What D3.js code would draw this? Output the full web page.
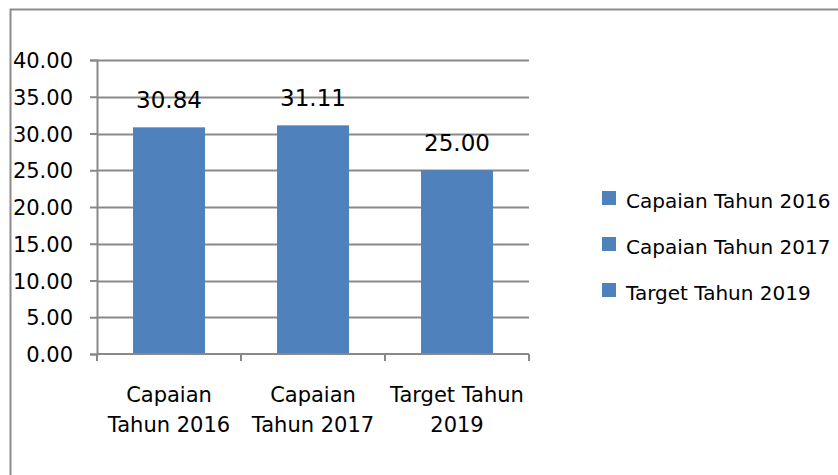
<!DOCTYPE html>
<html>
<head>
<meta charset="utf-8">
<script src="https://cdn.jsdelivr.net/npm/d3@7"></script>
<style>
  body { margin: 0; background: #fff; }
  text { font-family: "DejaVu Sans", sans-serif; fill: #000; }
</style>
</head>
<body>
<div id="chart"></div>
<script>
// chart data
const categories = ['Capaian Tahun 2016', 'Capaian Tahun 2017', 'Target Tahun 2019'];
const catLines = [['Capaian', 'Tahun 2016'], ['Capaian', 'Tahun 2017'], ['Target Tahun', '2019']];
const values = [30.84, 31.11, 25.00];
const yTicks = [0, 5, 10, 15, 20, 25, 30, 35, 40];

const W = 838, H = 475;
const m = { left: 97, right: 309, top: 60, bottom: 121 };
const barColour = '#4F81BD';
const gridColour = '#898989';

const svg = d3.select('#chart').append('svg')
	.attr('width', W)
	.attr('height', H);

// chart area border
svg.append('rect')
	.attr('x', 10.5).attr('y', 9.5)
	.attr('width', W).attr('height', H)
	.attr('fill', 'none')
	.attr('stroke', '#8c8c8c')
	.attr('stroke-width', 2);

const x = d3.scaleBand()
	.domain(categories)
	.range([m.left, W - m.right])
	.paddingInner(0.5)
	.paddingOuter(0.25);

const y = d3.scaleLinear()
	.domain([0, 40])
	.range([H - m.bottom, m.top]);

// gridlines
svg.append('g')
	.selectAll('line')
	.data(yTicks.slice(1))
	.join('line')
		.attr('x1', m.left).attr('x2', W - m.right)
		.attr('y1', d => Math.round(y(d)) + 0.5)
		.attr('y2', d => Math.round(y(d)) + 0.5)
		.attr('stroke', gridColour)
		.attr('stroke-width', 2);

// y axis
const yAxis = svg.append('g')
	.attr('transform', `translate(${m.left},0)`)
	.call(d3.axisLeft(y).tickValues(yTicks).tickSize(7).tickPadding(17).tickFormat(d3.format('.2f')));
yAxis.select('.domain').attr('stroke', gridColour).attr('stroke-width', 2);
yAxis.selectAll('.tick line').attr('stroke', gridColour).attr('stroke-width', 2);
yAxis.selectAll('.tick text')
	.style('font-size', '21px')
	.attr('dy', '0.36em');

// bars
svg.append('g')
	.selectAll('rect')
	.data(values)
	.join('rect')
		.attr('x', (d, i) => x(categories[i]))
		.attr('y', d => y(d))
		.attr('width', x.bandwidth())
		.attr('height', d => y(0) - y(d))
		.attr('fill', barColour);

// x axis
const step = x.step();
const xBase = y(0);
const xAxis = svg.append('g');
xAxis.append('line')
	.attr('x1', m.left).attr('x2', W - m.right)
	.attr('y1', xBase).attr('y2', xBase)
	.attr('stroke', gridColour).attr('stroke-width', 2);
xAxis.selectAll('.xtick')
	.data(d3.range(categories.length + 1))
	.join('line')
		.attr('class', 'xtick')
		.attr('x1', i => m.left + i * step).attr('x2', i => m.left + i * step)
		.attr('y1', xBase).attr('y2', xBase + 7)
		.attr('stroke', gridColour).attr('stroke-width', 2);

// category labels
const labels = svg.append('g')
	.selectAll('text')
	.data(catLines)
	.join('text')
		.attr('text-anchor', 'middle')
		.style('font-size', '21px')
		.attr('transform', (d, i) => `translate(${x(categories[i]) + x.bandwidth() / 2},0)`);
labels.selectAll('tspan')
	.data(d => d)
	.join('tspan')
		.attr('x', 0)
		.attr('y', (d, j) => 402 + j * 30)
		.text(d => d);

// data labels
svg.append('g')
	.selectAll('text')
	.data(values)
	.join('text')
		.attr('x', (d, i) => x(categories[i]) + x.bandwidth() / 2)
		.attr('y', d => y(d) - 19)
		.attr('text-anchor', 'middle')
		.style('font-size', '23px')
		.text(d => d3.format('.2f')(d));

// legend
const legend = svg.append('g')
	.attr('transform', 'translate(602,191)')
	.selectAll('g')
	.data(categories)
	.join('g')
		.attr('transform', (d, i) => `translate(0,${i * 46})`);
legend.append('rect')
	.attr('width', 14).attr('height', 14)
	.attr('fill', barColour);
legend.append('text')
	.attr('x', 24).attr('y', 17)
	.style('font-size', '20px')
	.text(d => d);
</script>
</body>
</html>
